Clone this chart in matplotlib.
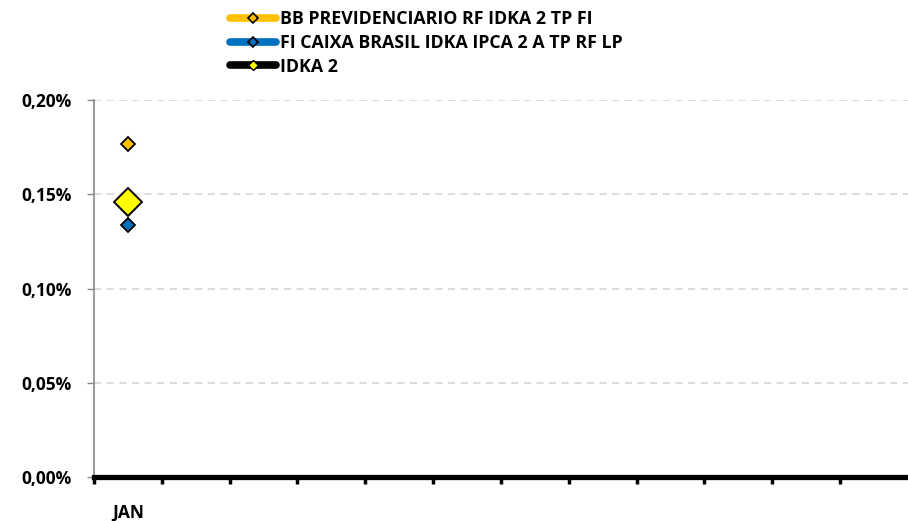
import matplotlib
matplotlib.use("Agg")
import matplotlib.pyplot as plt
from matplotlib.lines import Line2D

months = ["JAN", "", "", "", "", "", "", "", "", "", "", ""]
bb_prev = [0.1767]
caixa = [0.1337]
idka2 = [0.1459]
series_names = ["BB PREVIDENCIARIO RF IDKA 2 TP FI",
                "FI CAIXA BRASIL IDKA IPCA 2 A TP RF LP",
                "IDKA 2"]
yticks = [0.00, 0.05, 0.10, 0.15, 0.20]

plt.rcParams['font.family'] = ['Open Sans', 'DejaVu Sans']
plt.rcParams['font.weight'] = 'bold'

fig = plt.figure(figsize=(9.08, 5.21), dpi=100)
ax = fig.add_axes([0.1035, 0.0845, 0.8965, 0.7235])

x = list(range(len(bb_prev)))
ax.plot(x, bb_prev, linestyle='none', marker='D', markersize=7.5,
        markerfacecolor='#FFC000', markeredgecolor='black', markeredgewidth=1.3, zorder=4)
ax.plot(x, caixa, linestyle='none', marker='D', markersize=7.5,
        markerfacecolor='#0070C0', markeredgecolor='black', markeredgewidth=1.3, zorder=4)
ax.plot(x, idka2, linestyle='none', marker='D', markersize=14.5,
        markerfacecolor='#FFFF00', markeredgecolor='black', markeredgewidth=1.4, zorder=3)

ax.set_xlim(-0.5, len(months) - 0.5)
ax.set_ylim(0, 0.20)
ax.set_yticks(yticks)
ax.set_yticklabels([f"{v:.2f}%".replace('.', ',') for v in yticks], fontsize=12.5, fontweight='bold')
ax.set_xticks(range(len(months)))
ax.set_xticklabels(months, fontsize=12.5, fontweight='bold')
ax.tick_params(axis='x', length=0, pad=19)
ax.set_xticks([i - 0.5 for i in range(len(months))], minor=True)
ax.tick_params(axis='x', which='minor', length=5, width=2.5, color='black', direction='out')
ax.tick_params(axis='y', length=5, width=1, color='#888888', pad=11)

for y in yticks[1:]:
    ax.axhline(y, color='#D9D9D9', linestyle=(0, (4, 3)), linewidth=1.3, zorder=1)

ax.spines['top'].set_visible(False)
ax.spines['right'].set_visible(False)
ax.spines['left'].set_color('#888888')
ax.spines['left'].set_linewidth(1.2)
ax.spines['bottom'].set_color('black')
ax.spines['bottom'].set_linewidth(3.8)
ax.spines['bottom'].set_zorder(5)

handles = [
    Line2D([0], [0], color='#FFC000', linewidth=5.5, marker='D', markersize=5.5,
           markerfacecolor='#FFC000', markeredgecolor='black', markeredgewidth=1.2,
           solid_capstyle='round'),
    Line2D([0], [0], color='#0070C0', linewidth=5.5, marker='D', markersize=5.5,
           markerfacecolor='#0070C0', markeredgecolor='black', markeredgewidth=1.2,
           solid_capstyle='round'),
    Line2D([0], [0], color='black', linewidth=5.5, marker='D', markersize=5,
           markerfacecolor='#FFFF00', markeredgecolor='black', markeredgewidth=1.0,
           solid_capstyle='round'),
]
leg = fig.legend(handles, series_names, loc='upper left', bbox_to_anchor=(0.245, 0.994),
                 frameon=False, fontsize=12.8, handlelength=2.6, handletextpad=0.25,
                 labelspacing=0.32, borderaxespad=0)
for t in leg.get_texts():
    t.set_fontweight('bold')

fig.savefig("out.png", dpi=100)
